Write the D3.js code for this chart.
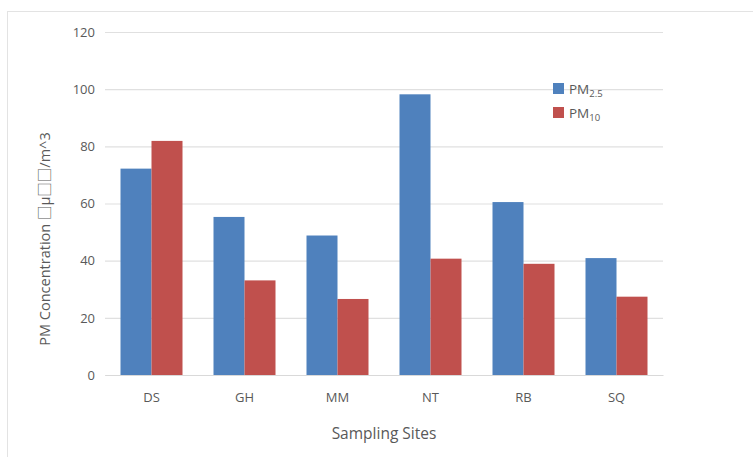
<!DOCTYPE html>
<html>
<head>
<meta charset="utf-8">
<script src="https://cdn.jsdelivr.net/npm/d3@7"></script>
<style>
body { margin: 0; background: #fff; }
svg { display: block; }
text { font-family: "Open Sans", "Liberation Sans", sans-serif; fill: #595959; }
</style>
</head>
<body>
<svg id="chart" width="753" height="457"></svg>
<script>
const categories = ["DS", "GH", "MM", "NT", "RB", "SQ"];
const seriesNames = ["PM2.5", "PM10"];
const pm25 = [72.2, 55.3, 48.8, 98.2, 60.5, 40.9];
const pm10 = [81.9, 33.1, 26.6, 40.7, 38.9, 27.4];
const yTicks = [0, 20, 40, 60, 80, 100, 120];
const colors = ["#4F81BD", "#C0504D"];

const svg = d3.select("#chart");
const margin = { left: 105, right: 663, top: 32, bottom: 375 };

// chart area border
svg.append("rect").attr("x", 7.5).attr("y", 11.5).attr("width", 800).attr("height", 500)
  .attr("fill", "none").attr("stroke", "#e3e3e3").attr("stroke-width", 1);

const x = d3.scaleBand().domain(categories).range([margin.left, margin.right]).paddingInner(0).paddingOuter(0);
const y = d3.scaleLinear().domain([0, 120]).range([margin.bottom, margin.top]);

// gridlines
const yAxis = d3.axisLeft(y).tickValues(yTicks).tickSize(-(margin.right - margin.left)).tickPadding(10);
const gy = svg.append("g").attr("transform", `translate(${margin.left},0)`).call(yAxis);
gy.select(".domain").remove();
gy.selectAll(".tick line").attr("stroke", "#e0e0e0").attr("stroke-width", 1.2);
gy.selectAll(".tick text").attr("font-size", 13).style("fill", "#595959");

// x axis
const xAxis = d3.axisBottom(x).tickSize(0).tickPadding(18);
const gx = svg.append("g").attr("transform", `translate(0,${margin.bottom})`).call(xAxis);
gx.select(".domain").attr("stroke", "#d9d9d9").attr("stroke-width", 1.2);
gx.selectAll(".tick text").attr("font-size", 13).style("fill", "#595959");

// bars
const bw = x.bandwidth();
const barW = bw / 3;
const data = categories.map((c, i) => ({ c, vals: [pm25[i], pm10[i]] }));
const groups = svg.append("g").selectAll("g").data(data).join("g")
  .attr("transform", d => `translate(${x(d.c) + bw / 2 - barW},0)`);
groups.selectAll("rect").data(d => d.vals.map((v, k) => ({ v, k }))).join("rect")
  .attr("x", d => d.k * barW)
  .attr("width", barW)
  .attr("y", d => y(d.v))
  .attr("height", d => y(0) - y(d.v))
  .attr("fill", d => colors[d.k]);

// axis titles
svg.append("text").attr("x", (margin.left + margin.right) / 2).attr("y", 439)
  .attr("text-anchor", "middle").attr("font-size", 15.5).text("Sampling Sites");
const yt = svg.append("text").attr("transform", "translate(50,239) rotate(-90)")
  .attr("text-anchor", "middle").attr("font-size", 14.5);
yt.append("tspan").text("PM Concentration ");
yt.append("tspan").style("font-family", "'Noto Sans CJK SC'").text("\u25A1");
yt.append("tspan").text("\u00B5");
yt.append("tspan").style("font-family", "'Noto Sans CJK SC'").text("\u25A1\u25A1");
yt.append("tspan").text("/m^3");

// legend
const leg = svg.append("g").attr("transform", "translate(553,83)");
const subs = ["2.5", "10"];
seriesNames.forEach((n, i) => {
  const g = leg.append("g").attr("transform", `translate(0,${i * 24})`);
  g.append("rect").attr("width", 11).attr("height", 11).attr("fill", colors[i]);
  const t = g.append("text").attr("x", 16).attr("y", 11).attr("font-size", 13.5);
  t.append("tspan").text("PM");
  t.append("tspan").attr("font-size", 9.5).attr("dy", 3).text(subs[i]);
});
</script>
</body>
</html>
